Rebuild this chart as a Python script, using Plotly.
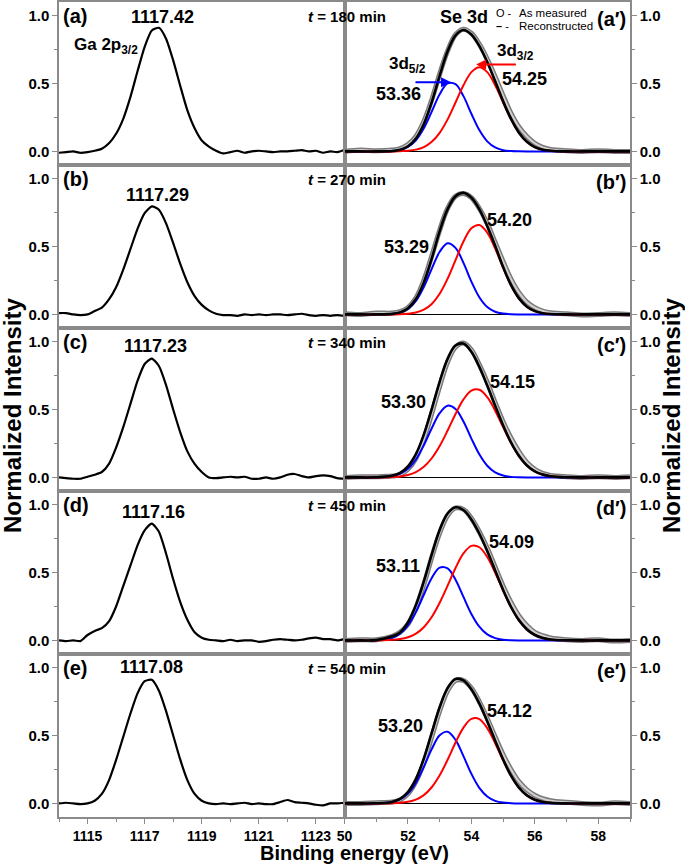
import plotly.graph_objects as go

# ---------------- data ----------------
panel_labels = ["a", "b", "c", "d", "e"]
times_min = [180, 270, 340, 450, 540]
ga_peak_labels = ["1117.42", "1117.29", "1117.23", "1117.16", "1117.08"]
se52_labels = ["53.36", "53.29", "53.30", "53.11", "53.20"]
se32_labels = ["54.25", "54.20", "54.15", "54.09", "54.12"]

ga_x = [1114.0, 1114.25, 1114.5, 1114.75, 1115.0, 1115.25, 1115.5, 1115.75, 1116.0, 1116.25,
        1116.5, 1116.75, 1117.0, 1117.25, 1117.5, 1117.75, 1118.0, 1118.25, 1118.5, 1118.75,
        1119.0, 1119.25, 1119.5, 1119.75, 1120.0, 1120.25, 1120.5, 1120.75, 1121.0, 1121.25,
        1121.5, 1121.75, 1122.0, 1122.25, 1122.5, 1122.75, 1123.0, 1123.25, 1123.5, 1123.75, 1124.0]

ga_a = [-0.01, -0.005, 0.0, -0.01, -0.005, 0.005, 0.02, 0.06, 0.13, 0.24, 0.40, 0.59, 0.77, 0.89, 0.91,
        0.83, 0.67, 0.48, 0.30, 0.17, 0.08, 0.035, 0.005, -0.015, -0.005, 0.005, -0.01, 0.0, 0.005, 0.0,
        -0.005, 0.0, 0.0, 0.005, 0.01, 0.0, 0.005, -0.01, 0.0, -0.005, 0.01]
ga_b = [0.01, 0.01, 0.0, -0.005, 0.0, 0.025, 0.05, 0.11, 0.20, 0.33, 0.48, 0.63, 0.745, 0.795, 0.77,
        0.67, 0.525, 0.37, 0.235, 0.135, 0.07, 0.03, 0.005, -0.005, -0.005, -0.01, 0.0, -0.005, 0.0, -0.005,
        0.0, 0.0, -0.005, 0.0, 0.005, -0.005, -0.01, -0.005, -0.01, -0.005, -0.01]
ga_c = [0.0, -0.005, -0.01, -0.01, 0.005, 0.02, 0.04, 0.10, 0.22, 0.37, 0.54, 0.71, 0.835, 0.875, 0.82,
        0.68, 0.50, 0.33, 0.19, 0.10, 0.04, 0.0, -0.005, 0.0, 0.005, 0.0, 0.005, -0.01, -0.01, 0.0,
        -0.01, 0.0, 0.02, 0.025, 0.01, 0.0, 0.01, 0.015, 0.01, -0.005, -0.01]
ga_d = [0.0, -0.005, 0.0, -0.005, 0.04, 0.07, 0.09, 0.14, 0.25, 0.40, 0.55, 0.70, 0.81, 0.86, 0.80,
        0.64, 0.45, 0.28, 0.15, 0.06, 0.02, 0.005, 0.0, -0.005, 0.005, -0.005, 0.0, 0.0, -0.01, -0.005,
        0.005, 0.01, 0.005, 0.0, 0.005, 0.015, 0.02, 0.01, 0.01, 0.0, 0.01]
ga_e = [0.0, 0.005, 0.0, -0.005, 0.0, 0.02, 0.07, 0.17, 0.32, 0.49, 0.66, 0.81, 0.90, 0.91, 0.83,
        0.68, 0.50, 0.32, 0.17, 0.07, 0.02, 0.0, -0.005, 0.0, -0.005, 0.0, 0.005, -0.005, 0.0, -0.005,
        -0.005, 0.01, 0.025, 0.01, 0.005, 0.0, -0.01, -0.015, 0.0, 0.0, 0.005]

se_x = [50.0, 50.5, 51.0, 51.5, 51.75, 52.0, 52.25, 52.5, 52.75, 53.0, 53.25, 53.5, 53.75, 54.0, 54.25,
        54.5, 54.75, 55.0, 55.25, 55.5, 55.75, 56.0, 56.25, 56.5, 57.0, 57.5, 58.0, 58.5, 59.0]

meas_a = [0.0, 0.01, 0.005, 0.01, 0.02, 0.05, 0.11, 0.22, 0.38, 0.57, 0.74, 0.86, 0.90, 0.87, 0.79,
          0.68, 0.55, 0.41, 0.28, 0.18, 0.11, 0.06, 0.03, 0.015, 0.005, 0.0, 0.005, 0.0, 0.0]
fit_a = [0, 0, 0, 0.003, 0.013, 0.038, 0.095, 0.202, 0.364, 0.558, 0.737, 0.855, 0.894, 0.861, 0.777,
         0.658, 0.516, 0.369, 0.239, 0.138, 0.071, 0.032, 0.013, 0.005, 0, 0, 0, 0, 0]
d52_a = [0, 0, 0, 0.003, 0.011, 0.033, 0.082, 0.170, 0.293, 0.421, 0.501, 0.495, 0.407, 0.277, 0.157,
         0.074, 0.029, 0.009, 0.003, 0.001, 0, 0, 0, 0, 0, 0, 0, 0, 0]
d32_a = [0, 0, 0, 0, 0.002, 0.005, 0.013, 0.032, 0.071, 0.137, 0.236, 0.360, 0.487, 0.584, 0.620,
         0.584, 0.487, 0.360, 0.236, 0.137, 0.071, 0.032, 0.013, 0.005, 0, 0, 0, 0, 0]

meas_b = [0.005, 0.0, 0.01, 0.01, 0.02, 0.05, 0.12, 0.25, 0.43, 0.62, 0.78, 0.87, 0.89, 0.86, 0.78,
          0.67, 0.53, 0.39, 0.26, 0.16, 0.09, 0.05, 0.025, 0.012, 0.005, -0.005, 0.0, 0.005, 0.0]
fit_b = [0, 0, 0, 0.004, 0.015, 0.046, 0.113, 0.236, 0.412, 0.613, 0.775, 0.870, 0.895, 0.860, 0.775,
         0.650, 0.505, 0.349, 0.215, 0.118, 0.057, 0.024, 0.009, 0.003, 0, 0, 0, 0, 0]
d52_b = [0, 0, 0, 0.004, 0.014, 0.041, 0.099, 0.201, 0.335, 0.461, 0.524, 0.490, 0.379, 0.242, 0.127,
         0.055, 0.020, 0.006, 0.001, 0, 0, 0, 0, 0, 0, 0, 0, 0, 0]
d32_b = [0, 0, 0, 0, 0.001, 0.005, 0.014, 0.035, 0.077, 0.152, 0.263, 0.400, 0.537, 0.634, 0.658,
         0.602, 0.485, 0.343, 0.214, 0.118, 0.057, 0.024, 0.009, 0.003, 0, 0, 0, 0, 0]

meas_c = [0.0, 0.005, 0.005, 0.01, 0.02, 0.06, 0.14, 0.28, 0.47, 0.67, 0.85, 0.96, 0.99, 0.94, 0.83,
          0.70, 0.55, 0.41, 0.29, 0.19, 0.11, 0.06, 0.03, 0.015, 0.005, 0.0, 0.005, 0.0, 0.005]
fit_c = [0, 0, 0.001, 0.012, 0.033, 0.081, 0.171, 0.315, 0.503, 0.704, 0.873, 0.971, 0.985, 0.925, 0.815,
         0.677, 0.528, 0.384, 0.257, 0.158, 0.088, 0.045, 0.021, 0.009, 0.001, 0, 0, 0, 0]
d52_c = [0, 0, 0.001, 0.009, 0.026, 0.063, 0.132, 0.237, 0.362, 0.473, 0.528, 0.504, 0.411, 0.286, 0.170,
         0.086, 0.037, 0.014, 0.004, 0.001, 0, 0, 0, 0, 0, 0, 0, 0, 0]
d32_c = [0, 0, 0, 0.003, 0.007, 0.018, 0.039, 0.078, 0.141, 0.231, 0.345, 0.467, 0.574, 0.639, 0.645,
         0.591, 0.491, 0.370, 0.253, 0.157, 0.088, 0.045, 0.021, 0.009, 0.001, 0, 0, 0, 0]

meas_d = [0.0, 0.005, 0.005, 0.03, 0.06, 0.12, 0.24, 0.41, 0.61, 0.79, 0.92, 0.975, 0.965, 0.90, 0.80,
          0.68, 0.54, 0.40, 0.28, 0.18, 0.11, 0.06, 0.035, 0.018, 0.005, 0.0, 0.005, -0.005, 0.0]
fit_d = [0, 0, 0.002, 0.03, 0.059, 0.133, 0.258, 0.433, 0.632, 0.813, 0.934, 0.980, 0.960, 0.891, 0.787,
         0.658, 0.515, 0.372, 0.246, 0.148, 0.081, 0.040, 0.018, 0.007, 0.001, 0, 0, 0, 0]
d52_d = [0, 0, 0.002, 0.019, 0.049, 0.110, 0.208, 0.336, 0.460, 0.536, 0.531, 0.447, 0.320, 0.195, 0.101,
         0.044, 0.017, 0.005, 0.001, 0, 0, 0, 0, 0, 0, 0, 0, 0, 0]
d32_d = [0, 0, 0, 0.004, 0.010, 0.023, 0.050, 0.097, 0.172, 0.277, 0.403, 0.533, 0.640, 0.696, 0.686,
         0.614, 0.498, 0.367, 0.245, 0.148, 0.081, 0.040, 0.018, 0.007, 0.001, 0, 0, 0, 0]

meas_e = [0.0, 0.0, 0.005, 0.01, 0.025, 0.07, 0.16, 0.30, 0.49, 0.68, 0.83, 0.905, 0.905, 0.85, 0.75,
          0.625, 0.49, 0.36, 0.25, 0.16, 0.10, 0.06, 0.035, 0.02, 0.008, 0.0, -0.005, 0.005, 0.0]
fit_e = [0, 0, 0.001, 0.011, 0.033, 0.084, 0.179, 0.329, 0.519, 0.708, 0.849, 0.916, 0.906, 0.840, 0.736,
         0.605, 0.462, 0.323, 0.204, 0.116, 0.059, 0.027, 0.011, 0.004, 0, 0, 0, 0, 0]
d52_e = [0, 0, 0.001, 0.010, 0.029, 0.072, 0.151, 0.268, 0.400, 0.501, 0.528, 0.468, 0.348, 0.218, 0.115,
         0.051, 0.019, 0.006, 0.002, 0, 0, 0, 0, 0, 0, 0, 0, 0, 0]
d32_e = [0, 0, 0, 0.001, 0.004, 0.012, 0.028, 0.061, 0.119, 0.207, 0.321, 0.448, 0.558, 0.622, 0.621,
         0.554, 0.443, 0.317, 0.202, 0.116, 0.059, 0.027, 0.011, 0.004, 0, 0, 0, 0, 0]

ga_series = [ga_a, ga_b, ga_c, ga_d, ga_e]
meas_series = [meas_a, meas_b, meas_c, meas_d, meas_e]
fit_series = [fit_a, fit_b, fit_c, fit_d, fit_e]
d52_series = [d52_a, d52_b, d52_c, d52_d, d52_e]
d32_series = [d32_a, d32_b, d32_c, d32_d, d32_e]

for s in ga_series:
    assert len(s) == len(ga_x)
for group in (meas_series, fit_series, d52_series, d32_series):
    for s in group:
        assert len(s) == len(se_x)

# label positions (data units)
ga_lab_xy = [(1117.64, 0.99), (1117.46, 0.88), (1117.39, 0.97), (1117.32, 0.945), (1117.25, 1.005)]
se52_lab_xy = [(51.69, 0.424), (51.96, 0.493), (51.85, 0.556), (51.70, 0.55), (51.77, 0.568)]
se32_lab_xy = [(55.68, 0.536), (55.19, 0.696), (55.31, 0.699), (55.27, 0.726), (55.21, 0.678)]

# ---------------- figure ----------------
W, H = 685, 864
ML, MR, MT, MB = 59, 55, 0, 47
PW, PH = W - ML - MR, H - MT - MB
ROWH = PH / 5.0


def px(xp):
    return (xp - ML) / PW


def py(yp):
    return 1 - (yp - MT) / PH


FONT = "Liberation Sans"
AX = "#8a8a8a"


def ax_name(kind, n):
    return kind + "axis" + ("" if n == 1 else str(n))


def ref(kind, n):
    return kind + ("" if n == 1 else str(n))


def bold(size):
    return dict(family=FONT, size=size, color="black", weight="bold")


fig = go.Figure()
layout = {}
annotations = []

for i in range(5):
    nL, nR = 2 * i + 1, 2 * i + 2
    yd = [1 - (i + 1) / 5.0, 1 - i / 5.0]
    bottom = (i == 4)
    tk = "outside" if bottom else ""
    tickfont = bold(14)

    layout[ax_name("x", nL)] = dict(
        domain=[0, 0.5], range=[1114, 1124], anchor=ref("y", nL), showline=True, mirror=True,
        linecolor=AX, linewidth=1.5, showgrid=False, zeroline=False, tick0=1115, dtick=2,
        ticks=tk, ticklen=5, tickcolor=AX, showticklabels=bottom, tickfont=tickfont,
        minor=dict(dtick=1, tick0=1115, ticks=tk, ticklen=3, tickcolor=AX))
    layout[ax_name("x", nR)] = dict(
        domain=[0.5, 1.0], range=[50, 59], anchor=ref("y", nR), showline=True, mirror=True,
        linecolor=AX, linewidth=1.5, showgrid=False, zeroline=False, tick0=50, dtick=2,
        ticks=tk, ticklen=5, tickcolor=AX, showticklabels=bottom, tickfont=tickfont,
        minor=dict(dtick=1, tick0=50, ticks=tk, ticklen=3, tickcolor=AX))
    yfont = bold(15)
    layout[ax_name("y", nL)] = dict(
        domain=yd, range=[-0.1, 1.1], anchor=ref("x", nL), side="left", showline=True, mirror=True,
        linecolor=AX, linewidth=1.5, showgrid=False, zeroline=False, tick0=0, dtick=0.5,
        tickformat=".1f", ticks="outside", ticklen=5, tickcolor=AX, tickfont=yfont,
        minor=dict(dtick=0.25, tick0=0, ticks="outside", ticklen=3, tickcolor=AX))
    layout[ax_name("y", nR)] = dict(
        domain=yd, range=[-0.1, 1.1], anchor=ref("x", nR), side="right", showline=True, mirror=True,
        linecolor=AX, linewidth=1.5, showgrid=False, zeroline=True, zerolinecolor="black",
        zerolinewidth=1, tick0=0, dtick=0.5, tickformat=".1f", ticks="outside", ticklen=5,
        tickcolor=AX, tickfont=yfont,
        minor=dict(dtick=0.25, tick0=0, ticks="outside", ticklen=3, tickcolor=AX))

    xL, yL, xR, yR = ref("x", nL), ref("y", nL), ref("x", nR), ref("y", nR)

    # Ga 2p3/2 spectrum
    fig.add_trace(go.Scatter(x=ga_x, y=ga_series[i], mode="lines", xaxis=xL, yaxis=yL,
                             line=dict(color="black", width=2.2, shape="spline", smoothing=0.6),
                             showlegend=False, hoverinfo="skip"))
    # Se 3d: measured (grey band of open circles), components and reconstruction
    fig.add_trace(go.Scatter(x=se_x, y=meas_series[i], mode="lines", xaxis=xR, yaxis=yR,
                             line=dict(color="#7a7a7a", width=5, shape="spline"),
                             showlegend=False, hoverinfo="skip"))
    fig.add_trace(go.Scatter(x=se_x, y=meas_series[i], mode="lines", xaxis=xR, yaxis=yR,
                             line=dict(color="#d2d2d2", width=2, shape="spline"),
                             showlegend=False, hoverinfo="skip"))
    fig.add_trace(go.Scatter(x=se_x, y=d52_series[i], mode="lines", xaxis=xR, yaxis=yR,
                             line=dict(color="#0000ff", width=2, shape="spline"),
                             showlegend=False, hoverinfo="skip"))
    fig.add_trace(go.Scatter(x=se_x, y=d32_series[i], mode="lines", xaxis=xR, yaxis=yR,
                             line=dict(color="#ff0000", width=2, shape="spline"),
                             showlegend=False, hoverinfo="skip"))
    fig.add_trace(go.Scatter(x=se_x, y=fit_series[i], mode="lines", xaxis=xR, yaxis=yR,
                             line=dict(color="black", width=2.6, shape="spline"),
                             showlegend=False, hoverinfo="skip"))

    top = i * ROWH
    lab = panel_labels[i]

    annotations.append(dict(text="(" + lab + ")", x=px(61), y=py(top + 14), xref="paper", yref="paper",
                            xanchor="left", yanchor="middle", showarrow=False, font=bold(20)))
    annotations.append(dict(text=ga_peak_labels[i], x=ga_lab_xy[i][0], y=ga_lab_xy[i][1], xref=xL, yref=yL,
                            xanchor="center", yanchor="middle", showarrow=False, font=bold(18)))
    annotations.append(dict(text="<i>t</i> = %d min" % times_min[i], x=px(347), y=py(top + 15),
                            xref="paper", yref="paper", xanchor="center", yanchor="middle",
                            showarrow=False, font=bold(15)))
    annotations.append(dict(text="(" + lab + "\u2032)", x=px(628), y=py(top + 17), xref="paper", yref="paper",
                            xanchor="right", yanchor="middle", showarrow=False, font=bold(20)))
    annotations.append(dict(text=se52_labels[i], x=se52_lab_xy[i][0], y=se52_lab_xy[i][1], xref=xR, yref=yR,
                            xanchor="center", yanchor="middle", showarrow=False, font=bold(18)))
    annotations.append(dict(text=se32_labels[i], x=se32_lab_xy[i][0], y=se32_lab_xy[i][1], xref=xR, yref=yR,
                            xanchor="center", yanchor="middle", showarrow=False, font=bold(18)))

    if i == 0:
        annotations.append(dict(text="Ga 2p<sub>3/2</sub>", x=px(72), y=py(44), xref="paper", yref="paper",
                                xanchor="left", yanchor="middle", showarrow=False, font=bold(17)))
        annotations.append(dict(text="Se 3d", x=px(464), y=py(15), xref="paper", yref="paper",
                                xanchor="center", yanchor="middle", showarrow=False, font=bold(18)))
        annotations.append(dict(text="O -", x=px(494), y=py(11), xref="paper", yref="paper",
                                xanchor="left", yanchor="middle", showarrow=False,
                                font=dict(family=FONT, size=11, color="black")))
        annotations.append(dict(text="<b>\u2013</b> -", x=px(494), y=py(24), xref="paper", yref="paper",
                                xanchor="left", yanchor="middle", showarrow=False,
                                font=dict(family=FONT, size=11, color="black")))
        annotations.append(dict(text="As measured", x=px(517), y=py(11), xref="paper", yref="paper",
                                xanchor="left", yanchor="middle", showarrow=False,
                                font=dict(family=FONT, size=11.5, color="black")))
        annotations.append(dict(text="Reconstructed", x=px(517), y=py(24), xref="paper", yref="paper",
                                xanchor="left", yanchor="middle", showarrow=False,
                                font=dict(family=FONT, size=11.5, color="black")))
        annotations.append(dict(text="3d<sub>5/2</sub>", x=51.98, y=0.637, xref=xR, yref=yR,
                                xanchor="center", yanchor="middle", showarrow=False, font=bold(17)))
        annotations.append(dict(text="3d<sub>3/2</sub>", x=55.375, y=0.732, xref=xR, yref=yR,
                                xanchor="center", yanchor="middle", showarrow=False, font=bold(17)))
        annotations.append(dict(text="", x=53.36, y=0.51, ax=52.19, ay=0.51, xref=xR, yref=yR,
                                axref=xR, ayref=yR, showarrow=True, arrowhead=2, arrowsize=1,
                                arrowwidth=2, arrowcolor="#0000ff"))
        annotations.append(dict(text="", x=54.15, y=0.64, ax=55.45, ay=0.64, xref=xR, yref=yR,
                                axref=xR, ayref=yR, showarrow=True, arrowhead=2, arrowsize=1,
                                arrowwidth=2, arrowcolor="#ff0000"))

# axis titles
annotations.append(dict(text="Normalized Intensity", x=px(13), y=py(415), xref="paper", yref="paper",
                        xanchor="center", yanchor="middle", textangle=-90, showarrow=False,
                        font=bold(24)))
annotations.append(dict(text="Normalized Intensity", x=px(672), y=py(415), xref="paper", yref="paper",
                        xanchor="center", yanchor="middle", textangle=-90, showarrow=False,
                        font=bold(24)))
annotations.append(dict(text="Binding energy (eV)", x=px(354), y=py(853), xref="paper", yref="paper",
                        xanchor="center", yanchor="middle", showarrow=False, font=bold(20)))

fig.update_layout(width=W, height=H, margin=dict(l=ML, r=MR, t=MT, b=MB),
                  paper_bgcolor="white", plot_bgcolor="white", showlegend=False,
                  annotations=annotations, **layout)

fig.write_html("out.html", config={"displayModeBar": False},
               post_script="document.body.style.margin='0px';document.body.style.overflow='hidden';")
